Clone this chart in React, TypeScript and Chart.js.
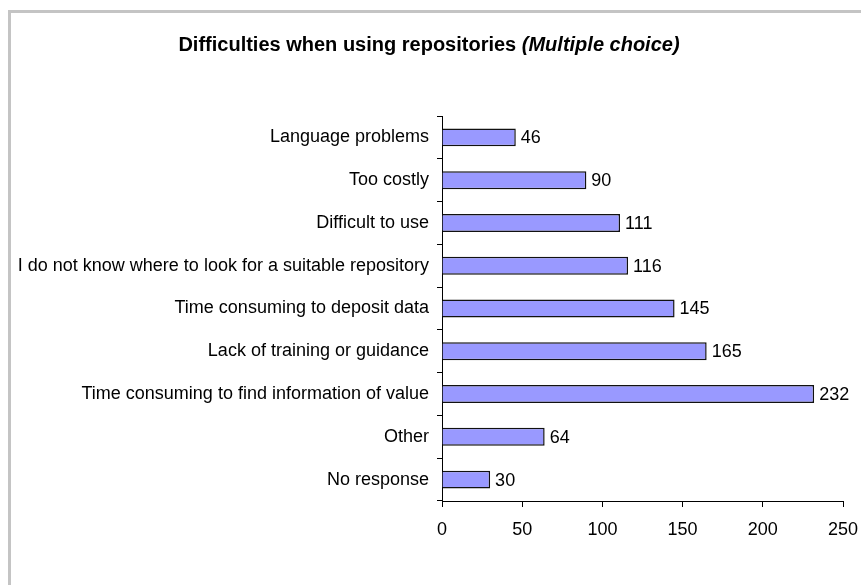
import React, { useEffect, useRef } from "react";
import { Chart, registerables } from "chart.js";

Chart.register(...registerables);

const categories: string[] = [
  "Language problems",
  "Too costly",
  "Difficult to use",
  "I do not know where to look for a suitable repository",
  "Time consuming to deposit data",
  "Lack of training or guidance",
  "Time consuming to find information of value",
  "Other",
  "No response",
];
const values: number[] = [46, 90, 111, 116, 145, 165, 232, 64, 30];
const xTicks: number[] = [0, 50, 100, 150, 200, 250];
const titleMain = "Difficulties when using repositories ";
const titleItalic = "(Multiple choice)";

const FONT = '"Liberation Sans", Arial, Helvetica, sans-serif';

const titlePlugin = {
  id: "mixedTitle",
  afterDraw(chart: any) {
    const ctx = chart.ctx;
    ctx.save();
    ctx.fillStyle = "#000";
    ctx.textBaseline = "middle";
    ctx.textAlign = "left";
    ctx.font = `bold 20px ${FONT}`;
    const w1 = ctx.measureText(titleMain).width;
    ctx.font = `italic bold 20px ${FONT}`;
    const w2 = ctx.measureText(titleItalic).width;
    const cx = 429;
    const y = 45;
    let x = cx - (w1 + w2) / 2;
    ctx.font = `bold 20px ${FONT}`;
    ctx.fillText(titleMain, x, y);
    x += w1;
    ctx.font = `italic bold 20px ${FONT}`;
    ctx.fillText(titleItalic, x, y);
    ctx.restore();
  },
};

const valueLabelPlugin = {
  id: "valueLabels",
  afterDatasetsDraw(chart: any) {
    const ctx = chart.ctx;
    const meta = chart.getDatasetMeta(0);
    ctx.save();
    ctx.fillStyle = "#000";
    ctx.font = `18px ${FONT}`;
    ctx.textAlign = "left";
    ctx.textBaseline = "middle";
    meta.data.forEach((el: any, i: number) => {
      ctx.fillText(String(values[i]), el.x + 5, el.y + 1);
    });
    ctx.restore();
  },
};

export default function App() {
  const ref = useRef<HTMLCanvasElement | null>(null);
  useEffect(() => {
    if (!ref.current) return;
    const chart = new Chart(ref.current, {
      type: "bar",
      data: {
        labels: categories,
        datasets: [
          {
            data: values,
            backgroundColor: "#9999FF",
            borderColor: "#111111",
            borderWidth: 1.5,
            barPercentage: 0.42,
            categoryPercentage: 1,
          },
        ],
      },
      options: {
        indexAxis: "y",
        animation: false,
        responsive: false,
        devicePixelRatio: 1,
        layout: { padding: { left: 0, right: 18, top: 116, bottom: 0 } },
        plugins: {
          legend: { display: false },
          title: { display: false },
          tooltip: { enabled: false },
        },
        scales: {
          x: {
            type: "linear",
            min: 0,
            max: 250,
            afterBuildTicks: (s: any) => {
              s.ticks = xTicks.map((v) => ({ value: v }));
            },
            ticks: {
              color: "#000",
              font: { size: 18, family: FONT },
              padding: 12,
              maxRotation: 0,
            },
            grid: {
              drawOnChartArea: false,
              drawTicks: true,
              tickLength: 6,
              color: "#000",
            },
            border: { color: "#000", width: 1 },
            afterFit: (s: any) => {
              s.height = 84;
              s.paddingLeft = 0;
              s.paddingRight = 0;
            },
          },
          y: {
            type: "category",
            ticks: {
              color: "#000",
              font: { size: 18, family: FONT },
              padding: 8,
              autoSkip: false,
            },
            grid: {
              drawOnChartArea: false,
              drawTicks: true,
              tickLength: 5,
              color: "#000",
              offset: true,
            },
            border: { color: "#000", width: 1 },
            afterFit: (s: any) => {
              s.width = 442;
              s.paddingTop = 0;
              s.paddingBottom = 0;
            },
          },
        },
      },
      plugins: [titlePlugin, valueLabelPlugin],
    });
    return () => chart.destroy();
  }, []);

  return (
    <div
      style={{
        position: "fixed",
        left: 0,
        top: 0,
        width: 861,
        height: 585,
        overflow: "hidden",
        background: "#fff",
      }}
    >
      <div
        style={{
          position: "absolute",
          left: 8,
          top: 10,
          width: 1200,
          height: 1000,
          borderLeft: "3px solid #c4c4c4",
          borderTop: "3px solid #c4c4c4",
          boxSizing: "border-box",
        }}
      />
      <canvas
        ref={ref}
        width={861}
        height={585}
        style={{ position: "absolute", left: 0, top: 0, width: 861, height: 585 }}
      />
    </div>
  );
}
